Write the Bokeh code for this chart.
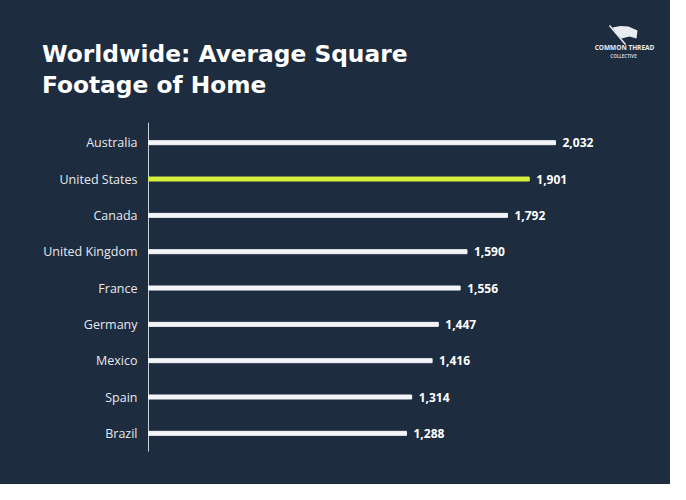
from bokeh.plotting import figure
from bokeh.models import ColumnDataSource, Range1d
from bokeh.core.properties import value
from bokeh.embed import file_html
from bokeh.resources import INLINE

countries = ["Australia", "United States", "Canada", "United Kingdom", "France",
             "Germany", "Mexico", "Spain", "Brazil"]
sqft = [2032, 1901, 1792, 1590, 1556, 1447, 1416, 1314, 1288]
labels = ["2,032", "1,901", "1,792", "1,590", "1,556", "1,447", "1,416", "1,314", "1,288"]
highlight = "United States"
title_lines = ["Worldwide: Average Square", "Footage of Home"]
logo_lines = ["COMMON THREAD", "COLLECTIVE"]

BG = "#1d2c3e"
WHITE = "#f3f5f8"
LIME = "#d6f03c"
FONT = "Open Sans"
W, H = 670, 484

# layout geometry (canvas px)
X0 = 148.0          # px of value 0
XS = 0.2003         # px per square foot
Y0 = 142.2          # px of first category
YS = 36.33          # px per category step

n = len(countries)
pos = list(range(n))
colors = [LIME if c == highlight else WHITE for c in countries]
src = ColumnDataSource(dict(country=countries, pos=pos, sqft=sqft, label=labels, color=colors))

p = figure(width=W, height=H,
           x_range=Range1d(-X0 / XS, (W - X0) / XS),
           y_range=Range1d((H - Y0) / YS, -Y0 / YS),
           x_axis_location=None, y_axis_location=None,
           output_backend="svg", toolbar_location=None, min_border=0)
p.extra_x_ranges = {"px": Range1d(0, W)}
p.extra_y_ranges = {"px": Range1d(H, 0)}
p.background_fill_color = BG
p.border_fill_color = BG
p.outline_line_color = None
p.styles = {"background-color": BG}
p.grid.visible = False

# axis line
p.segment(x0=[0], y0=[-0.55], x1=[0], y1=[n - 0.5], line_color="#c9d0d8", line_width=1)

# bars and labels
p.hbar(y="pos", left=0, right="sqft", height=0.11, color="color", source=src)
p.text(x="sqft", y="pos", text="label", x_offset=7, source=src,
       text_font=value(FONT), text_font_style="bold", text_font_size="12px",
       text_color="#ffffff", text_baseline="middle", text_align="left")
p.text(x=0, y="pos", text="country", x_offset=-11, source=src,
       text_font=value(FONT), text_font_size="12.5px",
       text_color="#e6e9ee", text_baseline="middle", text_align="right")

# title
p.text(x=[41.5, 41.5], y=[53, 83.5], text=title_lines,
       x_range_name="px", y_range_name="px",
       text_font=value("DejaVu Sans"), text_font_style="bold", text_font_size="23.3px",
       text_color="#ffffff", text_baseline="alphabetic", text_align="left")

# logo
p.patch(x=[612, 620, 628, 637, 636, 629, 621, 616], y=[27, 25.5, 26, 30, 38, 36, 38, 33],
        x_range_name="px", y_range_name="px", fill_color="#e9edf2", line_color=None)
p.segment(x0=[609], y0=[25], x1=[625], y1=[44], x_range_name="px", y_range_name="px",
          line_color="#e9edf2", line_width=1.5)
p.text(x=[624, 623], y=[47, 55], text=logo_lines, x_range_name="px", y_range_name="px",
       text_font=value(FONT), text_font_style="bold", text_font_size=["6.5px", "4.5px"],
       text_color=["#e9edf2", "#c9d0d8"], text_baseline="middle", text_align="center")

open("out.html", "w").write(file_html(p, INLINE))
